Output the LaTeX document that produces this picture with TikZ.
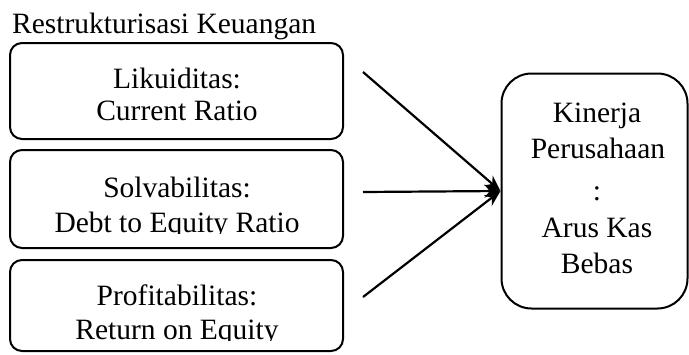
\documentclass[tikz,border=0pt]{standalone}
\usepackage{fontspec}
\setmainfont{Liberation Serif}
\usetikzlibrary{arrows.meta}
\begin{document}
\begin{tikzpicture}[x=1pt,y=-1pt,
  font=\fontsize{29.5}{35}\selectfont,
  box/.style={draw, line width=2pt, rounded corners=12pt, inner sep=0pt},
  bigbox/.style={draw, line width=2pt, rounded corners=30pt, inner sep=0pt},
  txt/.style={anchor=base, inner sep=0pt},
  conn/.style={line width=2.2pt, -{Stealth[length=16pt,width=13pt]}}]
\useasboundingbox (0,0) rectangle (689,354);
\node[txt, anchor=base west] (title) at (12,33) {Restrukturisasi Keuangan};
% left boxes
\node[box, minimum width=333pt, minimum height=96pt] (b1) at (176.5,91) {};
\node[box, minimum width=333pt, minimum height=98pt] (b2) at (176.5,199) {};
\node[box, minimum width=333pt, minimum height=91pt] (b3) at (176.5,305.5) {};
\node[txt] (t1a) at (177,88) {Likuiditas:};
\node[txt] (t1b) at (177,120) {Current Ratio};
\node[txt] (t2a) at (177,197) {Solvabilitas:};
\begin{scope}
  \clip (10,200) rectangle (343,233);
  \node[txt] (t2b) at (177,232) {Debt to Equity Ratio};
\end{scope}
\node[txt] (t3a) at (177,305) {Profitabilitas:};
\begin{scope}
  \clip (10,300) rectangle (343,340);
  \node[txt] (t3b) at (177,339) {Return on Equity};
\end{scope}
% right box
\node[bigbox, minimum width=186pt, minimum height=235pt] (r) at (594.5,191) {};
\node[txt] (r1) at (597,122) {Kinerja};
\node[txt] (r2) at (598,158) {Perusahaan};
\node[txt] (r3) at (597,200) {:};
\node[txt] (r4) at (597,237) {Arus Kas};
\node[txt] (r5) at (597,273) {Bebas};
% connectors
\coordinate (s1) at (363,72);
\coordinate (s2) at (363,192);
\coordinate (s3) at (363,297);
\draw[conn] (s1) -- (r.west);
\draw[conn] (s2) -- (r.west);
\draw[conn] (s3) -- (r.west);
\end{tikzpicture}
\end{document}
